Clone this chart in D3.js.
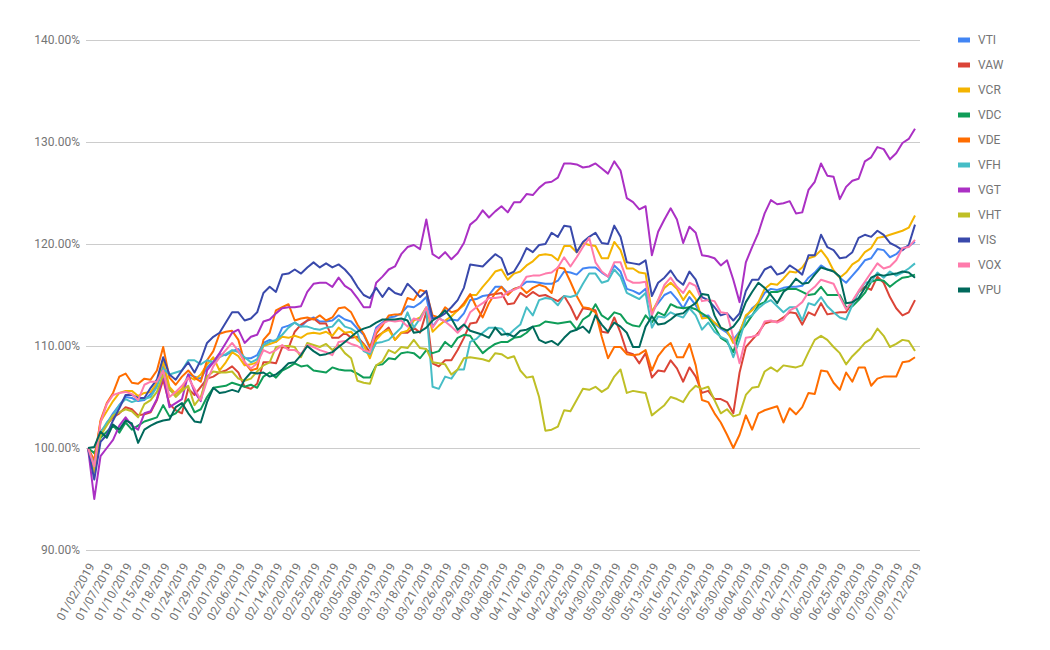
<!DOCTYPE html>
<meta charset="utf-8">
<style>
  body { margin: 0; background: #fff; }
  text { font-family: Roboto, "Noto Sans", sans-serif; }
  .axis path { display: none; }
  .axis--y line { stroke: #cccccc; }
  .axis text { fill: #757575; font-size: 12px; }
  .line { fill: none; stroke-width: 2; stroke-linejoin: round; }
</style>
<svg width="1050" height="650"></svg>
<script src="https://d3js.org/d3.v7.min.js"></script>
<script>

var dates = [
  "01/02/2019","01/03/2019","01/04/2019","01/07/2019","01/08/2019","01/09/2019","01/10/2019","01/11/2019","01/14/2019","01/15/2019",
  "01/16/2019","01/17/2019","01/18/2019","01/22/2019","01/23/2019","01/24/2019","01/25/2019","01/28/2019","01/29/2019","01/30/2019",
  "01/31/2019","02/01/2019","02/04/2019","02/05/2019","02/06/2019","02/07/2019","02/08/2019","02/11/2019","02/12/2019","02/13/2019",
  "02/14/2019","02/15/2019","02/19/2019","02/20/2019","02/21/2019","02/22/2019","02/25/2019","02/26/2019","02/27/2019","02/28/2019",
  "03/01/2019","03/04/2019","03/05/2019","03/06/2019","03/07/2019","03/08/2019","03/11/2019","03/12/2019","03/13/2019","03/14/2019",
  "03/15/2019","03/18/2019","03/19/2019","03/20/2019","03/21/2019","03/22/2019","03/25/2019","03/26/2019","03/27/2019","03/28/2019",
  "03/29/2019","04/01/2019","04/02/2019","04/03/2019","04/04/2019","04/05/2019","04/08/2019","04/09/2019","04/10/2019","04/11/2019",
  "04/12/2019","04/15/2019","04/16/2019","04/17/2019","04/18/2019","04/22/2019","04/23/2019","04/24/2019","04/25/2019","04/26/2019",
  "04/29/2019","04/30/2019","05/01/2019","05/02/2019","05/03/2019","05/06/2019","05/07/2019","05/08/2019","05/09/2019","05/10/2019",
  "05/13/2019","05/14/2019","05/15/2019","05/16/2019","05/17/2019","05/20/2019","05/21/2019","05/22/2019","05/23/2019","05/24/2019",
  "05/28/2019","05/29/2019","05/30/2019","05/31/2019","06/03/2019","06/04/2019","06/05/2019","06/06/2019","06/07/2019","06/10/2019",
  "06/11/2019","06/12/2019","06/13/2019","06/14/2019","06/17/2019","06/18/2019","06/19/2019","06/20/2019","06/21/2019","06/24/2019",
  "06/25/2019","06/26/2019","06/27/2019","06/28/2019","07/01/2019","07/02/2019","07/03/2019","07/05/2019","07/08/2019","07/09/2019",
  "07/10/2019","07/11/2019","07/12/2019"
];

var xTickLabels = [
  "01/02/2019","01/07/2019","01/10/2019","01/15/2019","01/18/2019","01/24/2019","01/29/2019","02/01/2019","02/06/2019","02/11/2019",
  "02/14/2019","02/20/2019","02/25/2019","02/28/2019","03/05/2019","03/08/2019","03/13/2019","03/18/2019","03/21/2019","03/26/2019",
  "03/29/2019","04/03/2019","04/08/2019","04/11/2019","04/16/2019","04/22/2019","04/25/2019","04/30/2019","05/03/2019","05/08/2019",
  "05/13/2019","05/16/2019","05/21/2019","05/24/2019","05/30/2019","06/04/2019","06/07/2019","06/12/2019","06/17/2019","06/20/2019",
  "06/25/2019","06/28/2019","07/03/2019","07/09/2019","07/12/2019"
];

var yTicks = [90, 100, 110, 120, 130, 140];

var seriesNames = ["VTI", "VAW", "VCR", "VDC", "VDE", "VFH", "VGT", "VHT", "VIS", "VOX", "VPU"];
var seriesColors = ["#4285f4", "#db4437", "#f4b400", "#0f9d58", "#ff6d00", "#46bdc6", "#ab30c4", "#bfbf26", "#3949ab", "#ff7bac", "#00695c"];

var vti = [
  100, 97.6, 101.2, 102.4, 103.4, 104.2, 105.0, 104.9, 104.6, 104.7,
  105.3, 106.2, 108.2, 105.7, 105.3, 105.7, 107.2, 107.0, 106.8, 107.9,
  108.5, 109.2, 109.1, 109.5, 109.7, 108.8, 108.8, 109.1, 110.3, 110.6,
  110.4, 111.8, 112.0, 112.3, 111.9, 112.5, 112.8, 112.4, 112.4, 112.5,
  113.0, 112.6, 112.4, 111.7, 111.1, 109.8, 111.8, 112.3, 112.8, 112.9,
  113.2, 113.9, 113.8, 114.2, 114.8, 111.9, 112.7, 112.4, 112.6, 112.5,
  113.2, 114.5, 114.6, 114.9, 115.0, 115.8, 115.8, 115.2, 115.6, 115.8,
  116.3, 116.3, 116.2, 116.1, 116.1, 116.4, 117.3, 117.2, 117.0, 117.6,
  117.7, 117.7, 117.2, 116.8, 117.9, 117.3, 115.6, 115.4, 115.1, 115.6,
  113.4, 114.2, 115.0, 115.3, 114.6, 113.7, 114.8, 114.0, 112.9, 113.0,
  112.2, 111.7, 111.3, 110.6, 111.4, 112.8, 113.7, 114.2, 115.2, 115.6,
  115.5, 115.7, 115.8, 115.8, 115.9, 116.7, 117.2, 117.9, 117.5, 117.4,
  116.7, 116.2, 116.9, 117.6, 118.4, 118.6, 119.5, 119.4, 118.7, 119.0,
  119.6, 119.8, 120.2
];

var vaw = [
  100, 98.5, 101.6, 102.3, 103.0, 103.4, 104.0, 103.8, 103.2, 103.3,
  103.5, 104.7, 106.7, 104.3, 103.7, 103.4, 105.8, 105.2, 106.0, 106.8,
  107.0, 107.4, 107.6, 108.0, 107.4, 106.0, 105.8, 106.3, 108.4, 108.4,
  108.3, 109.9, 109.8, 111.4, 112.1, 112.5, 112.7, 112.2, 112.2, 110.8,
  110.8, 111.3, 110.8, 110.9, 110.2, 109.4, 110.9, 111.3, 111.8, 110.6,
  111.3, 111.3, 111.8, 111.3, 113.3, 108.3, 108.0, 108.6, 108.6, 109.6,
  110.8, 112.2, 112.3, 113.5, 115.0, 115.1, 115.2, 114.1, 114.2, 115.2,
  114.8, 115.3, 114.9, 115.0, 114.7, 114.4, 114.9, 113.9, 112.6, 113.7,
  113.6, 113.5, 111.4, 111.3, 112.8, 111.3, 109.4, 109.2, 108.3, 109.3,
  106.9, 107.6, 107.5, 108.6, 107.8, 106.5, 107.9, 107.0, 105.4, 105.6,
  104.8, 104.8, 104.5, 103.4, 107.4, 109.9, 110.6, 111.3, 112.2, 112.4,
  112.4, 112.8, 113.3, 113.2, 112.1, 113.3, 113.0, 114.2, 113.1, 113.2,
  113.3, 113.3, 114.3, 115.3, 115.8, 115.5, 116.8, 116.2, 114.8, 113.7,
  113.0, 113.3, 114.5
];

var vcr = [
  100, 98.5, 102.6, 103.6, 104.6, 105.4, 105.6, 105.6, 105.1, 105.4,
  105.5, 106.4, 108.5, 106.0, 105.3, 105.8, 107.0, 106.7, 107.2, 108.2,
  108.9, 107.6, 108.4, 109.4, 109.0, 108.1, 108.2, 108.4, 110.0, 110.2,
  110.4, 110.9, 110.8, 111.0, 110.8, 111.2, 111.3, 111.2, 111.4, 111.0,
  111.8, 111.3, 111.4, 110.6, 110.1, 108.8, 110.6, 111.3, 111.6, 110.6,
  111.3, 111.5, 112.5, 112.8, 113.8, 111.4, 112.0, 112.5, 112.9, 113.5,
  114.0, 115.0, 115.0, 115.8, 116.5, 117.3, 117.5, 116.5, 117.1, 117.3,
  117.9, 118.3, 118.9, 119.0, 118.9, 118.4, 119.8, 119.8, 119.2, 120.1,
  119.9, 119.8, 118.6, 118.6, 120.2, 119.4, 117.6, 117.6, 117.2, 117.1,
  113.3, 114.5, 115.7, 116.2, 115.6, 114.5, 115.4, 114.6, 112.7, 112.8,
  112.3, 111.8, 111.5, 110.3, 111.3, 113.0, 113.5, 114.3, 115.6, 116.1,
  116.0, 116.6, 117.3, 117.2, 117.7, 118.6, 118.8, 119.4, 118.6, 117.4,
  116.7, 117.2, 118.0, 118.4, 119.2, 119.6, 120.6, 120.7, 120.9, 121.1,
  121.3, 121.6, 122.8
];

var vdc = [
  100, 99.5, 101.0, 101.6, 102.2, 101.5, 102.5, 101.8, 102.2, 102.6,
  102.8, 103.0, 104.2, 103.1, 103.4, 104.1, 104.8, 103.5, 103.8, 105.0,
  105.9, 106.0, 106.1, 106.4, 106.2, 106.0, 106.2, 105.9, 107.0, 107.4,
  106.9, 107.6, 107.9, 108.3, 108.0, 108.1, 107.6, 107.5, 107.4, 107.9,
  107.7, 107.6, 107.6, 107.3, 106.9, 106.9, 108.1, 108.2, 108.8, 108.7,
  109.3, 109.4, 109.3, 108.8, 109.6, 109.3, 109.5, 110.4, 109.9, 110.8,
  111.1, 111.0, 110.1, 109.3, 109.8, 110.2, 110.4, 110.4, 110.8, 110.9,
  111.3, 111.9, 112.0, 112.4, 112.3, 112.2, 112.3, 112.4, 111.6, 112.6,
  113.0, 114.1, 113.0, 112.6, 113.3, 113.1, 112.3, 112.0, 111.9, 113.0,
  112.3, 113.3, 113.0, 114.1, 113.8, 113.7, 113.8, 113.6, 113.2, 112.8,
  111.9, 110.8, 110.4, 109.4, 111.3, 112.1, 113.0, 114.0, 114.3, 115.3,
  115.3, 115.5, 115.6, 115.6, 115.3, 115.0, 115.1, 115.8, 115.0, 115.0,
  115.0, 113.8, 113.9, 114.5, 115.2, 116.3, 116.5, 116.4, 115.8, 116.3,
  116.7, 116.8, 117.0
];

var vde = [
  100, 98.8, 102.7, 104.4, 105.4, 107.0, 107.3, 106.4, 106.3, 106.8,
  106.7, 107.6, 109.9, 106.9, 106.2, 107.0, 107.6, 106.9, 106.5, 108.6,
  109.5, 111.2, 111.4, 111.5, 110.6, 108.4, 107.6, 107.8, 110.6, 111.3,
  113.5, 113.8, 114.1, 112.5, 112.7, 112.8, 112.6, 113.0, 112.5, 112.8,
  113.7, 113.8, 113.3, 112.1, 111.2, 109.9, 111.2, 112.0, 113.0, 113.1,
  113.1, 114.7, 114.5, 115.5, 115.3, 113.0, 112.8, 113.8, 113.3, 113.5,
  114.2, 115.1, 113.8, 112.8, 114.2, 115.2, 115.8, 115.0, 115.6, 115.8,
  115.2, 115.7, 116.0, 115.8, 115.2, 117.7, 117.6, 116.3, 114.9, 113.8,
  113.7, 113.3, 110.9, 108.8, 109.9, 109.9, 109.2, 109.1, 109.2, 109.6,
  107.6, 109.0, 109.8, 110.3, 108.9, 108.9, 110.2, 108.1, 104.7, 104.5,
  103.4, 102.5, 101.3, 100.0, 101.3, 103.2, 101.8, 103.4, 103.7, 103.9,
  104.1, 102.5, 103.9, 103.3, 104.0, 105.4, 105.3, 107.6, 107.5, 106.4,
  105.7, 107.4, 106.5, 107.9, 107.9, 106.1, 106.8, 107.0, 107.0, 107.0,
  108.4, 108.5, 108.9
];

var vfh = [
  100, 98.3, 101.5, 102.5, 103.2, 104.2, 104.8, 104.5, 104.7, 104.8,
  105.0, 106.0, 107.8, 107.2, 107.4, 107.6, 108.6, 108.6, 108.2, 108.6,
  108.4, 108.9, 109.2, 109.6, 109.4, 108.9, 108.4, 108.7, 110.1, 110.4,
  110.6, 111.1, 111.8, 112.3, 111.9, 111.9, 111.7, 111.6, 111.8, 111.9,
  112.6, 111.9, 111.7, 111.3, 109.5, 109.2, 110.3, 110.4, 110.6, 111.2,
  111.8, 113.3, 111.8, 112.7, 113.7, 106.0, 105.8, 107.0, 106.8, 107.7,
  107.7, 110.4, 110.7, 111.3, 111.8, 111.8, 111.7, 111.0, 111.6, 112.1,
  113.8, 113.0, 114.5, 114.7, 114.6, 114.0, 114.9, 114.8, 115.0, 116.1,
  117.1, 117.1, 116.2, 116.4, 117.5, 116.8, 115.2, 114.9, 114.6, 115.2,
  111.8, 112.9, 112.8, 113.3, 113.0, 112.8, 113.7, 113.0, 111.6, 112.3,
  111.4, 110.9, 110.6, 108.9, 110.6, 112.7, 113.0, 113.7, 114.2, 114.5,
  113.9, 113.3, 113.8, 113.8, 112.5, 114.2, 114.0, 114.8, 113.9, 113.3,
  112.8, 112.6, 114.0, 115.3, 116.2, 116.3, 117.2, 116.7, 117.3, 116.9,
  117.2, 117.6, 118.1
];

var vgt = [
  100, 95.0, 99.2, 100.0, 100.8, 102.2, 103.0, 102.2, 101.8, 103.4,
  103.6, 104.8, 107.2, 104.0, 104.4, 104.8, 107.2, 105.5, 104.6, 107.6,
  108.4, 109.3, 110.3, 111.3, 111.6, 110.3, 110.9, 111.1, 112.4, 112.6,
  113.2, 113.7, 113.8, 113.8, 113.9, 115.3, 116.1, 116.2, 116.2, 115.8,
  116.7, 115.9, 115.5, 114.7, 113.8, 113.8, 116.2, 116.8, 117.5, 117.8,
  119.0, 119.7, 119.9, 119.5, 122.4, 119.0, 118.6, 119.2, 118.5, 119.1,
  120.1, 121.9, 122.4, 123.3, 122.6, 123.2, 123.7, 123.1, 124.1, 124.1,
  124.9, 124.8, 125.5, 126.0, 126.1, 126.5, 127.9, 127.9, 127.8, 127.5,
  127.6, 127.9, 127.4, 126.9, 128.1, 127.2, 124.5, 124.1, 123.4, 123.7,
  118.9, 121.2, 122.4, 123.5, 122.4, 120.1, 121.7, 121.1, 118.9, 118.8,
  118.6, 117.9, 118.4, 116.5, 114.3, 118.2, 119.7, 121.1, 123.0, 124.3,
  123.9, 124.0, 124.2, 123.0, 123.1, 125.3, 126.1, 127.9, 126.7, 126.6,
  124.4, 125.6, 126.2, 126.4, 128.1, 128.5, 129.5, 129.3, 128.3, 128.9,
  129.9, 130.3, 131.3
];

var vht = [
  100, 97.6, 101.2, 102.2, 103.2, 103.5, 103.8, 103.6, 103.0, 104.3,
  104.7, 105.5, 107.2, 105.8, 105.0, 105.6, 106.1, 104.2, 105.0, 107.0,
  107.5, 107.4, 107.4, 107.5, 106.8, 106.6, 106.8, 107.5, 108.1, 108.4,
  109.9, 110.0, 110.0, 109.9, 108.9, 110.3, 110.1, 109.9, 110.2, 109.6,
  110.1, 109.3, 108.8, 106.6, 106.4, 106.3, 108.1, 108.5, 109.6, 109.3,
  109.9, 109.8, 110.6, 109.8, 109.7, 108.4, 108.3, 108.2, 107.2, 107.7,
  108.8, 108.9, 108.8, 108.7, 108.5, 109.3, 109.2, 108.8, 109.0, 107.6,
  106.9, 107.0, 105.0, 101.7, 101.8, 102.1, 103.7, 103.6, 104.7, 105.8,
  105.7, 106.0, 105.5, 105.9, 107.0, 107.7, 105.4, 105.6, 105.5, 105.4,
  103.2, 103.7, 104.2, 105.0, 104.8, 104.5, 105.5, 106.1, 105.8, 106.0,
  104.7, 103.4, 103.8, 103.1, 103.3, 105.2, 105.9, 106.0, 107.5, 107.9,
  107.5, 108.1, 108.0, 107.9, 108.1, 109.4, 110.6, 111.0, 110.6, 109.9,
  109.3, 108.2, 109.0, 109.6, 110.3, 110.7, 111.7, 111.0, 109.9, 110.2,
  110.6, 110.5, 109.5
];

var vis = [
  100, 96.9, 100.6, 101.3, 102.7, 103.9, 105.2, 105.2, 104.9, 104.9,
  105.9, 106.7, 108.9, 107.2, 106.7, 107.6, 108.4, 107.4, 108.6, 110.3,
  110.9, 111.3, 112.3, 113.3, 113.3, 112.5, 112.7, 113.3, 115.2, 115.8,
  115.3, 117.0, 117.1, 117.5, 117.1, 117.7, 118.2, 117.7, 118.1, 117.7,
  118.0, 117.5, 116.8, 115.8, 115.0, 114.7, 115.7, 114.8, 115.7, 115.2,
  115.0, 116.1, 115.5, 114.8, 115.4, 112.7, 112.8, 113.2, 113.8, 114.5,
  115.7, 118.0, 117.9, 117.8, 118.4, 119.0, 118.6, 117.0, 117.3, 118.3,
  119.6, 119.2, 119.9, 120.0, 121.1, 120.7, 121.8, 121.7, 119.2, 120.2,
  120.7, 121.1, 120.1, 120.0, 121.8, 120.7, 118.2, 118.1, 118.0, 118.4,
  114.9, 116.2, 116.7, 117.4, 116.5, 116.0, 117.3, 116.5, 114.8, 114.5,
  113.8, 113.0, 113.2, 112.5, 113.2, 115.4, 116.5, 116.5, 117.5, 117.8,
  117.0, 117.2, 117.9, 117.5, 117.0, 118.9, 118.9, 120.9, 119.7, 119.4,
  118.6, 118.7, 119.2, 120.6, 120.9, 120.7, 121.3, 120.9, 120.1, 119.8,
  119.4, 119.9, 121.9
];

var vox = [
  100, 98.2, 102.5, 104.3, 105.2, 105.4, 105.5, 105.3, 104.7, 106.2,
  106.5, 106.5, 107.6, 105.0, 105.5, 106.1, 106.9, 105.8, 104.7, 106.6,
  108.0, 108.9, 109.6, 110.3, 109.5, 108.4, 107.8, 108.3, 109.6, 109.3,
  109.6, 110.1, 109.6, 109.6, 109.2, 110.1, 109.9, 109.6, 109.4, 109.1,
  110.4, 110.5, 110.2, 110.0, 109.6, 109.4, 111.6, 112.2, 112.5, 112.4,
  112.5, 111.9, 112.7, 112.5, 113.8, 111.8, 112.7, 112.4, 111.9, 111.3,
  112.0, 113.3, 113.8, 114.2, 114.7, 114.7, 114.8, 115.3, 115.5, 115.8,
  116.8, 116.9, 116.9, 117.1, 117.2, 117.7, 118.7, 117.8, 118.7, 119.7,
  120.6, 118.2, 117.3, 116.8, 118.2, 118.2, 116.5, 116.2, 116.2, 116.3,
  113.0, 114.5, 116.0, 116.7, 115.8, 115.2, 116.2, 115.9, 114.4, 114.5,
  114.4, 113.3, 113.2, 110.8, 108.3, 110.8, 110.9, 111.1, 112.4, 112.5,
  112.3, 112.6, 113.5, 113.8, 114.3, 115.3, 115.8, 116.5, 116.3, 116.1,
  114.8, 113.6, 114.4, 115.4, 116.3, 117.2, 118.1, 117.6, 117.8, 118.4,
  119.6, 119.7, 120.4
];

var vpu = [
  100, 100.1, 101.6, 101.0, 102.3, 101.8, 102.7, 102.4, 100.5, 101.8,
  102.2, 102.5, 102.7, 102.8, 104.0, 104.4, 103.4, 102.6, 102.5, 104.5,
  105.9, 105.4, 105.5, 105.7, 105.5, 106.7, 107.4, 107.3, 107.4, 107.0,
  107.2, 107.7, 108.3, 108.4, 109.1, 110.0, 109.5, 109.1, 109.2, 109.4,
  109.9, 110.4, 110.9, 111.4, 111.7, 111.9, 112.3, 112.6, 112.6, 112.6,
  112.7, 112.5, 111.3, 111.4, 111.8, 112.5, 112.9, 113.5, 112.7, 111.6,
  112.1, 111.5, 111.3, 111.1, 110.8, 111.8, 111.1, 111.2, 110.9, 111.5,
  111.6, 111.9, 110.6, 110.3, 110.5, 110.1, 110.8, 111.4, 111.6, 111.9,
  111.3, 113.0, 112.1, 111.4, 112.3, 111.9, 111.3, 109.9, 109.9, 111.9,
  112.9, 112.1, 112.2, 112.6, 113.1, 113.2, 113.8, 114.2, 115.1, 115.0,
  113.0, 111.8, 111.5, 111.9, 112.7, 114.3, 115.3, 116.2, 115.7, 115.0,
  114.2, 115.3, 115.8, 116.6, 116.1, 116.2, 117.0, 117.7, 117.5, 117.3,
  116.8, 114.2, 114.3, 114.7, 115.7, 116.7, 117.0, 116.9, 117.0, 117.1,
  117.3, 117.2, 116.7
];

var seriesValues = [vti, vaw, vcr, vdc, vde, vfh, vgt, vht, vis, vox, vpu];

var svg = d3.select("svg");

var x = d3.scalePoint().domain(dates).range([88, 915]);
var y = d3.scaleLinear().domain([90, 140]).range([550, 40]);

// gridlines + y labels
svg.append("g")
  .attr("class", "axis axis--y")
  .attr("transform", "translate(86,0)")
  .call(d3.axisLeft(y).tickValues(yTicks).tickSize(-834).tickPadding(6)
    .tickFormat(function(d) { return d.toFixed(2) + "%"; }));

// x labels, slanted
svg.append("g")
  .attr("class", "axis axis--x")
  .attr("transform", "translate(0,550)")
  .call(d3.axisBottom(x).tickValues(xTickLabels).tickSize(0))
  .selectAll("text")
  .attr("x", 0).attr("y", 0).attr("dy", "0.35em")
  .attr("text-anchor", "end")
  .attr("transform", "translate(3,14) rotate(-60)");

svg.selectAll(".axis--x line").remove();

var line = d3.line()
  .x(function(d, i) { return x(dates[i]); })
  .y(function(d) { return y(d); });

svg.append("g").selectAll("path")
  .data(seriesValues)
  .enter().append("path")
  .attr("class", "line")
  .attr("stroke", function(d, i) { return seriesColors[i]; })
  .attr("d", line);

// legend
var legend = svg.append("g").selectAll("g")
  .data(seriesNames)
  .enter().append("g")
  .attr("transform", function(d, i) { return "translate(958," + (40 + i * 25) + ")"; });

legend.append("rect")
  .attr("x", 0).attr("y", -2.5)
  .attr("width", 12).attr("height", 5)
  .attr("fill", function(d, i) { return seriesColors[i]; });

legend.append("text")
  .attr("x", 20).attr("dy", "0.35em")
  .style("fill", "#757575")
  .style("font-size", "12px")
  .text(function(d) { return d; });

</script>
